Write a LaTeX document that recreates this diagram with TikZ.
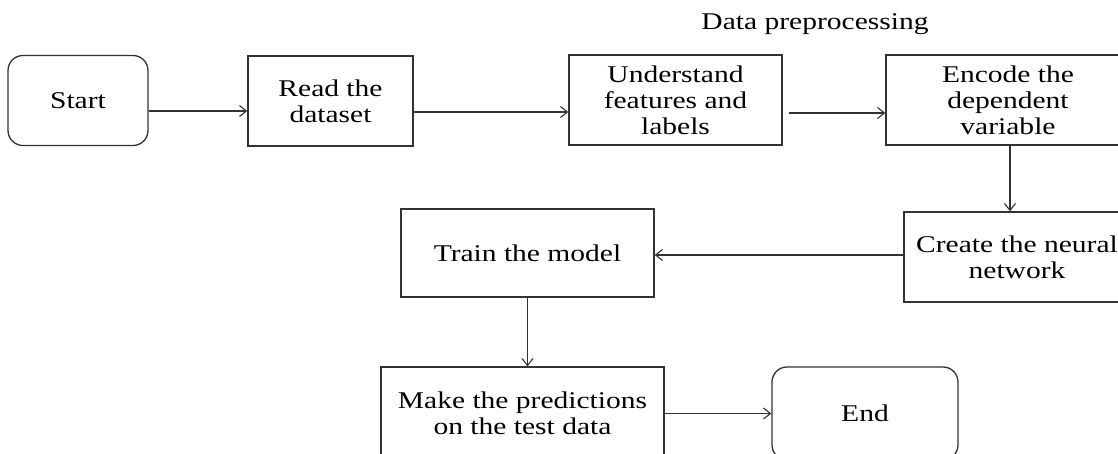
\documentclass[tikz,border=0pt]{standalone}
\usepackage{fontspec}
\setmainfont{Liberation Serif}
\usepackage{graphicx}
\usetikzlibrary{arrows.meta}
\newcommand{\stretchtxt}[1]{\raisebox{-3pt}[\height][\depth]{\scalebox{1.23}[1]{\begin{tabular}{@{}c@{}}#1\end{tabular}}}}
\definecolor{linegray}{HTML}{333333}
\tikzset{
  box/.style={draw=linegray, line width=1.3pt, rectangle, inner sep=0pt, anchor=center, text=black},
  roundbox/.style={box, rounded corners=15pt},
  arr/.style={draw=linegray, line width=1.2pt, -{Straight Barb[length=7pt,width=11pt,line width=1.1pt]}},
  lbl/.style={inner sep=0pt, text=black}
}
\begin{document}
\begin{tikzpicture}[x=1pt,y=-1pt, font=\fontsize{24}{26}\selectfont]
\clip (0,0) rectangle (1118,454);
\fill[white] (0,0) rectangle (1118,454);
\node[roundbox, minimum width=140pt, minimum height=90pt] (start) at (78,100.5) {\stretchtxt{Start}};
\node[box, minimum width=165pt, minimum height=90pt] (read) at (330.5,101) {\stretchtxt{Read the\\dataset}};
\node[box, minimum width=213pt, minimum height=90pt] (under) at (675.5,100) {\stretchtxt{Understand\\features and\\labels}};
\node[box, minimum width=244pt, minimum height=90pt] (encode) at (1008,100) {\stretchtxt{Encode the\\dependent\\variable}};
\node[box, minimum width=226pt, minimum height=90pt] (create) at (1017,257) {\stretchtxt{Create the neural\\network}};
\node[box, minimum width=253pt, minimum height=88pt] (train) at (527.5,253) {\stretchtxt{Train the model}};
\node[box, minimum width=283pt, minimum height=93pt] (make) at (522.5,413.5) {\stretchtxt{Make the predictions\\on the test data}};
\node[roundbox, minimum width=186pt, minimum height=93pt] (end) at (865,413.5) {\stretchtxt{End}};
\node[lbl, anchor=base] (title) at (815,30) {\scalebox{1.23}[1]{Data preprocessing}};

\draw[arr] ([yshift=-10.5pt]start.east) -- ([yshift=-10.5pt]start.east -| read.west);
\draw[arr] ([yshift=-11pt]read.east) -- ([yshift=-11pt]read.east -| under.west);
\draw[arr] ([xshift=6pt,yshift=-13pt]under.east) -- ([yshift=-13pt]under.east -| encode.west);
\draw[arr] ([xshift=2pt]encode.south) -- ([xshift=2pt]encode.south |- create.north);
\draw[arr] ([yshift=2pt]create.west) -- ([yshift=2pt]create.west -| train.east);
\draw[arr] (train.south) -- (train.south |- make.north);
\draw[arr] (make.east) -- (make.east -| end.west);
\end{tikzpicture}
\end{document}
